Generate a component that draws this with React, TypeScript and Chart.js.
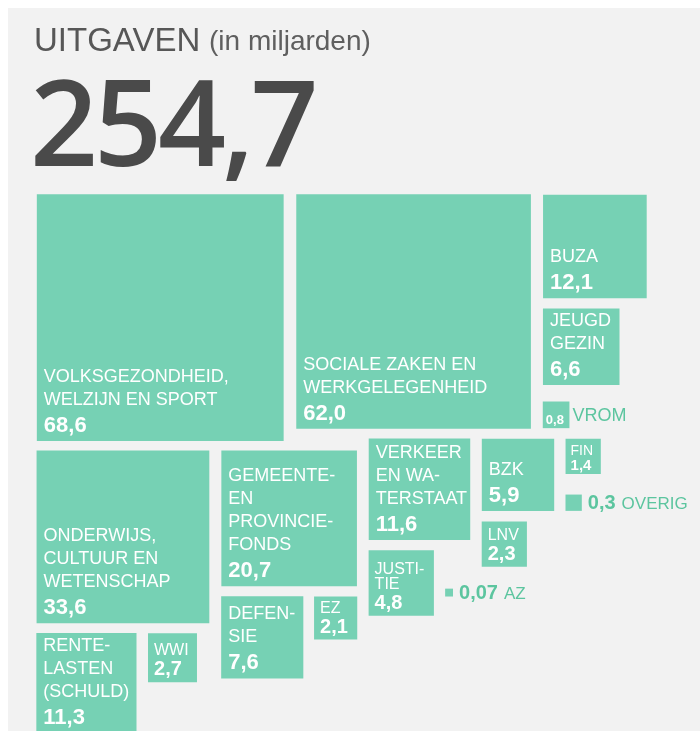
import React, { useEffect, useRef } from "react";
import { Chart, registerables } from "chart.js";

Chart.register(...registerables);

// ---------- data ----------
const titleText = "UITGAVEN";
const unitText = "(in miljarden)";
const totalText = "254,7";

const departments = [
  "VWS", "SZW", "BUZA", "JEUGD GEZIN", "VROM", "OCW", "GEMEENTEFONDS", "DEFENSIE", "EZ",
  "RENTELASTEN", "WWI", "VENW", "JUSTITIE", "BZK", "LNV", "FIN", "OVERIG", "AZ",
];
const amounts = [68.6, 62.0, 12.1, 6.6, 0.8, 33.6, 20.7, 7.6, 2.1, 11.3, 2.7, 11.6, 4.8, 5.9, 2.3, 1.4, 0.3, 0.07];
const amountLabels = ["68,6", "62,0", "12,1", "6,6", "0,8", "33,6", "20,7", "7,6", "2,1", "11,3", "2,7", "11,6", "4,8", "5,9", "2,3", "1,4", "0,3", "0,07"];
const boxLabels: string[][] = [
  ["VOLKSGEZONDHEID,", "WELZIJN EN SPORT"],
  ["SOCIALE ZAKEN EN", "WERKGELEGENHEID"],
  ["BUZA"],
  ["JEUGD", "GEZIN"],
  [],
  ["ONDERWIJS,", "CULTUUR EN", "WETENSCHAP"],
  ["GEMEENTE-", "EN", "PROVINCIE-", "FONDS"],
  ["DEFEN-", "SIE"],
  ["EZ"],
  ["RENTE-", "LASTEN", "(SCHULD)"],
  ["WWI"],
  ["VERKEER", "EN WA-", "TERSTAAT"],
  ["JUSTI-", "TIE"],
  ["BZK"],
  ["LNV"],
  ["FIN"],
  [],
  [],
];
const outsideNames = ["", "", "", "", "VROM", "", "", "", "", "", "", "", "", "", "", "", "OVERIG", "AZ"];

// ---------- layout (relational placement, sizes derive from sqrt(amount)) ----------
type XRule = ["origin"] | ["rightOf", number] | ["alignLeft", number] | ["alignRight", number];
type YRule = ["origin"] | ["below", number] | ["alignTop", number] | ["alignBottom", number, number?];
const placement: { x: XRule; y: YRule }[] = [
  { x: ["origin"], y: ["origin"] },
  { x: ["rightOf", 0], y: ["alignTop", 0] },
  { x: ["rightOf", 1], y: ["alignTop", 1] },
  { x: ["alignLeft", 2], y: ["below", 2] },
  { x: ["alignLeft", 2], y: ["alignBottom", 1] },
  { x: ["alignLeft", 0], y: ["below", 0] },
  { x: ["rightOf", 5], y: ["alignTop", 5] },
  { x: ["alignLeft", 6], y: ["below", 6] },
  { x: ["alignRight", 6], y: ["alignTop", 7] },
  { x: ["alignLeft", 5], y: ["below", 5] },
  { x: ["rightOf", 9], y: ["alignTop", 9] },
  { x: ["rightOf", 6], y: ["below", 1] },
  { x: ["alignLeft", 11], y: ["below", 11] },
  { x: ["rightOf", 11], y: ["alignTop", 11] },
  { x: ["alignLeft", 13], y: ["below", 13] },
  { x: ["rightOf", 13], y: ["alignTop", 13] },
  { x: ["alignLeft", 15], y: ["alignBottom", 13] },
  { x: ["rightOf", 12], y: ["alignBottom", 12, -0.64] },
];

const PX_X = 30; // pixels per unit horizontally
const PX_Y = 29.6; // pixels per unit vertically
const GAP = 11 / 30;
const W = 692;
const H = 723;
const ORIGIN_X = 28;
const ORIGIN_Y = 187;

const BOX = "#76d1b4";
const GREEN_TEXT = "#5cc59f";
const FONT = '"Liberation Sans", Arial, sans-serif';

function computeLayout() {
  const sides = amounts.map((v) => Math.sqrt(v));
  const pos: { x0: number; y0: number }[] = [];
  placement.forEach((p, i) => {
    const s = sides[i];
    let x0 = 0;
    let y0 = 0;
    const xr = p.x;
    if (xr[0] === "rightOf") x0 = pos[xr[1]].x0 + sides[xr[1]] + GAP;
    else if (xr[0] === "alignLeft") x0 = pos[xr[1]].x0;
    else if (xr[0] === "alignRight") x0 = pos[xr[1]].x0 + sides[xr[1]] - s;
    const yr = p.y;
    if (yr[0] === "below") y0 = pos[yr[1]].y0 + sides[yr[1]] + GAP;
    else if (yr[0] === "alignTop") y0 = pos[yr[1]].y0;
    else if (yr[0] === "alignBottom") y0 = pos[yr[1]].y0 + sides[yr[1]] - s + (yr[2] || 0);
    pos.push({ x0, y0 });
  });
  return pos.map((p, i) => ({ x: p.x0 + sides[i] / 2, y: p.y0 + sides[i] / 2 }));
}

const STYLES = {
  large: { label: 18, lineH: 23, value: 22, valueGap: 27, padX: 7, padB: 9 },
  small: { label: 16, lineH: 15, value: 20, valueGap: 20, padX: 6, padB: 7 },
  tiny: { label: 14, lineH: 14, value: 15, valueGap: 15, padX: 5, padB: 4 },
};

const labelPlugin = {
  id: "squareLabels",
  afterDatasetsDraw(chart: any) {
    const ctx = chart.ctx as CanvasRenderingContext2D;
    const meta = chart.getDatasetMeta(0);
    ctx.save();
    ctx.textBaseline = "alphabetic";
    ctx.textAlign = "left";
    meta.data.forEach((el: any, i: number) => {
      const side = el.options.radius * Math.SQRT2;
      const left = el.x - side / 2;
      const right = el.x + side / 2;
      const bottom = el.y + side / 2;
      if (side >= 20) {
        const st = side >= 70 ? STYLES.large : side >= 40 ? STYLES.small : STYLES.tiny;
        ctx.fillStyle = "#ffffff";
        const vBase = bottom - st.padB;
        ctx.font = `bold ${boxLabels[i].length ? st.value : 13}px ${FONT}`;
        ctx.fillText(amountLabels[i], left + st.padX - (boxLabels[i].length ? 0 : 2), vBase);
        const lines = boxLabels[i];
        ctx.font = `${st.label}px ${FONT}`;
        lines.forEach((line, k) => {
          const b = vBase - st.valueGap - (lines.length - 1 - k) * st.lineH;
          ctx.fillText(line, left + st.padX, b);
        });
        if (outsideNames[i]) {
          ctx.fillStyle = GREEN_TEXT;
          ctx.font = `18px ${FONT}`;
          ctx.fillText(outsideNames[i], right + 3, el.y + (0.716 * 18) / 2);
        }
      } else {
        ctx.fillStyle = GREEN_TEXT;
        const base = el.y + (0.716 * 18) / 2;
        let x = right + 6;
        ctx.font = `bold 20px ${FONT}`;
        ctx.fillText(amountLabels[i], x, base);
        x += ctx.measureText(amountLabels[i]).width + 6;
        ctx.font = `17px ${FONT}`;
        ctx.fillText(outsideNames[i], x, base);
      }
    });
    ctx.restore();
  },
};

export default function App() {
  const canvasRef = useRef<HTMLCanvasElement>(null);

  useEffect(() => {
    const canvas = canvasRef.current;
    if (!canvas) return;
    const centers = computeLayout();
    const sidePx = (chart: any, i: number) => {
      const xs = chart.scales.x;
      const ys = chart.scales.y;
      const s = Math.sqrt(amounts[i]);
      const px = Math.abs(xs.getPixelForValue(s) - xs.getPixelForValue(0));
      const py = Math.abs(ys.getPixelForValue(s) - ys.getPixelForValue(0));
      return (px + py) / 2;
    };
    const chart = new Chart(canvas, {
      type: "scatter",
      data: {
        labels: departments,
        datasets: [
          {
            label: "Uitgaven",
            data: centers.map((c) => ({ x: c.x, y: c.y })),
            pointStyle: "rect",
            pointRadius: (c: any) => sidePx(c.chart, c.dataIndex) / Math.SQRT2,
            pointHoverRadius: (c: any) => sidePx(c.chart, c.dataIndex) / Math.SQRT2,
            pointBackgroundColor: BOX,
            pointHoverBackgroundColor: BOX,
            pointBorderWidth: 0,
            pointHoverBorderWidth: 0,
            clip: false,
          } as any,
        ],
      },
      options: {
        responsive: false,
        animation: false,
        events: [],
        devicePixelRatio: 1,
        layout: { padding: 0 },
        plugins: { legend: { display: false }, tooltip: { enabled: false } },
        scales: {
          x: { type: "linear", display: false, min: -ORIGIN_X / PX_X, max: (W - ORIGIN_X) / PX_X },
          y: { type: "linear", display: false, reverse: true, min: -ORIGIN_Y / PX_Y, max: (H - ORIGIN_Y) / PX_Y },
        },
      },
      plugins: [labelPlugin],
    });
    return () => chart.destroy();
  }, []);

  return (
    <div
      style={{
        position: "fixed",
        left: 8,
        top: 8,
        width: W,
        height: H,
        background: "#f2f2f2",
        overflow: "hidden",
        fontFamily: FONT,
      }}
    >
      <canvas ref={canvasRef} width={W} height={H} style={{ position: "absolute", left: 0, top: 0, width: W, height: H }} />
      <div style={{ position: "absolute", left: 26, top: 15, fontSize: 33, lineHeight: "33px", color: "#575757", whiteSpace: "nowrap" }}>
        {titleText}
      </div>
      <div style={{ position: "absolute", left: 201, top: 19, fontSize: 28, lineHeight: "28px", color: "#5f5f5f", whiteSpace: "nowrap" }}>
        {unitText}
      </div>
      <div
        style={{
          position: "absolute",
          left: 22,
          top: 53,
          fontSize: 119,
          lineHeight: "119px",
          fontWeight: 600,
          fontFamily: '"Open Sans", "Liberation Sans", sans-serif',
          letterSpacing: -4,
          color: "#4a4a4a",
          whiteSpace: "nowrap",
        }}
      >
        {totalText}
      </div>
    </div>
  );
}
